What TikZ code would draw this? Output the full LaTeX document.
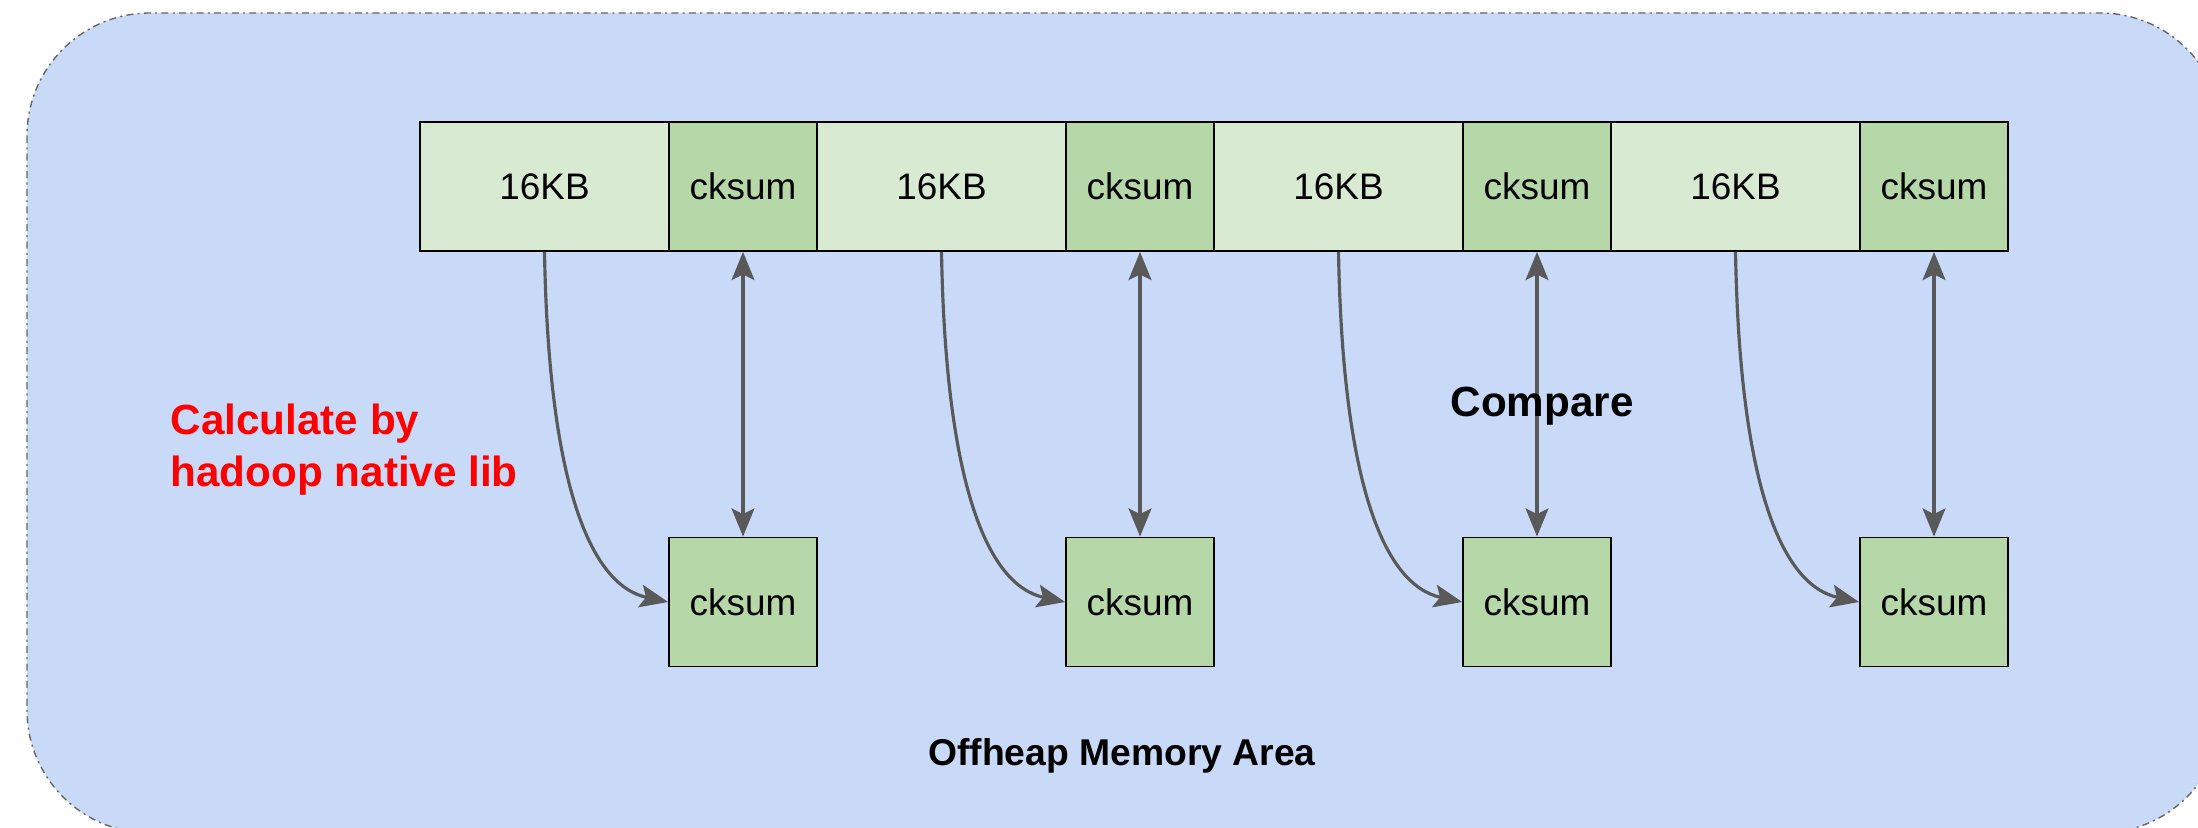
\documentclass[tikz,border=0pt]{standalone}
\usepackage{fontspec}
\setmainfont{Liberation Sans}
\usepackage{tikz}
\usetikzlibrary{calc}
\usetikzlibrary{arrows.meta}

\definecolor{areablue}{HTML}{C9DAF8}
\definecolor{datagreen}{HTML}{D9EAD3}
\definecolor{sumgreen}{HTML}{B6D7A8}
\definecolor{linegray}{HTML}{595959}
\definecolor{bordergray}{HTML}{666666}

\begin{document}
\begin{tikzpicture}[
    x=0.01cm, y=-0.01cm,
    font=\fontsize{10.5}{12.6}\selectfont,
    area/.style={draw=bordergray, fill=areablue, line width=0.4pt, rounded corners=1.23cm,
                 dash pattern={on 2pt off 1.2pt on 0.6pt off 1.2pt}},
    data/.style={rectangle, draw, fill=datagreen, line width=0.5pt, minimum width=2.49cm, minimum height=1.29cm, inner sep=0pt},
    sum/.style={rectangle, draw, fill=sumgreen, line width=0.5pt, minimum width=1.48cm, minimum height=1.29cm, inner sep=0pt},
    calcarr/.style={->, >={Stealth[length=8pt,width=6.5pt,inset=1.6pt]}, line width=0.9pt, draw=linegray},
    cmparr/.style={<->, >={Stealth[length=8pt,width=6.5pt,inset=1.6pt]}, line width=0.9pt, draw=linegray},
    note/.style={font=\fontsize{12}{14.8}\selectfont\bfseries},
]

\useasboundingbox (0,0) rectangle (2198,828);

% -------------------------
% Offheap area
% -------------------------
\draw[area] (27,13) rectangle (2223,833);

% -------------------------
% Top row: blocks and their checksums
% -------------------------
\foreach \i in {0,...,3}{
  \pgfmathsetmacro{\xa}{420+397*\i+124.5}
  \pgfmathsetmacro{\xb}{420+397*\i+249+74}
  \node[data] (dat\i) at (\xa,186.5) {16KB};
  \node[sum]  (sumT\i) at (\xb,186.5) {cksum};
  \node[sum]  (sumB\i) at (\xb,602) {cksum};
}

% -------------------------
% Computed checksums (curved) and compare (double)
% -------------------------
\foreach \i in {0,...,3}{
  \draw[calcarr] (dat\i.south) .. controls ($(dat\i.south)+(4,229)$) and ($(sumB\i.west)+(-79,-17)$) .. (sumB\i.west);
  \draw[cmparr] (sumT\i.south) -- (sumB\i.north);
}

% labels
\node[note, text=red, align=left, anchor=west, inner sep=0pt] (calclbl) at (170,450) {Calculate by\\hadoop native lib};
\node[note] (cmplbl) at (1542,406) {Compare};
\node[font=\fontsize{10.6}{12.7}\selectfont\bfseries] (arealbl) at (1122,756) {Offheap Memory Area};

\end{tikzpicture}
\end{document}
